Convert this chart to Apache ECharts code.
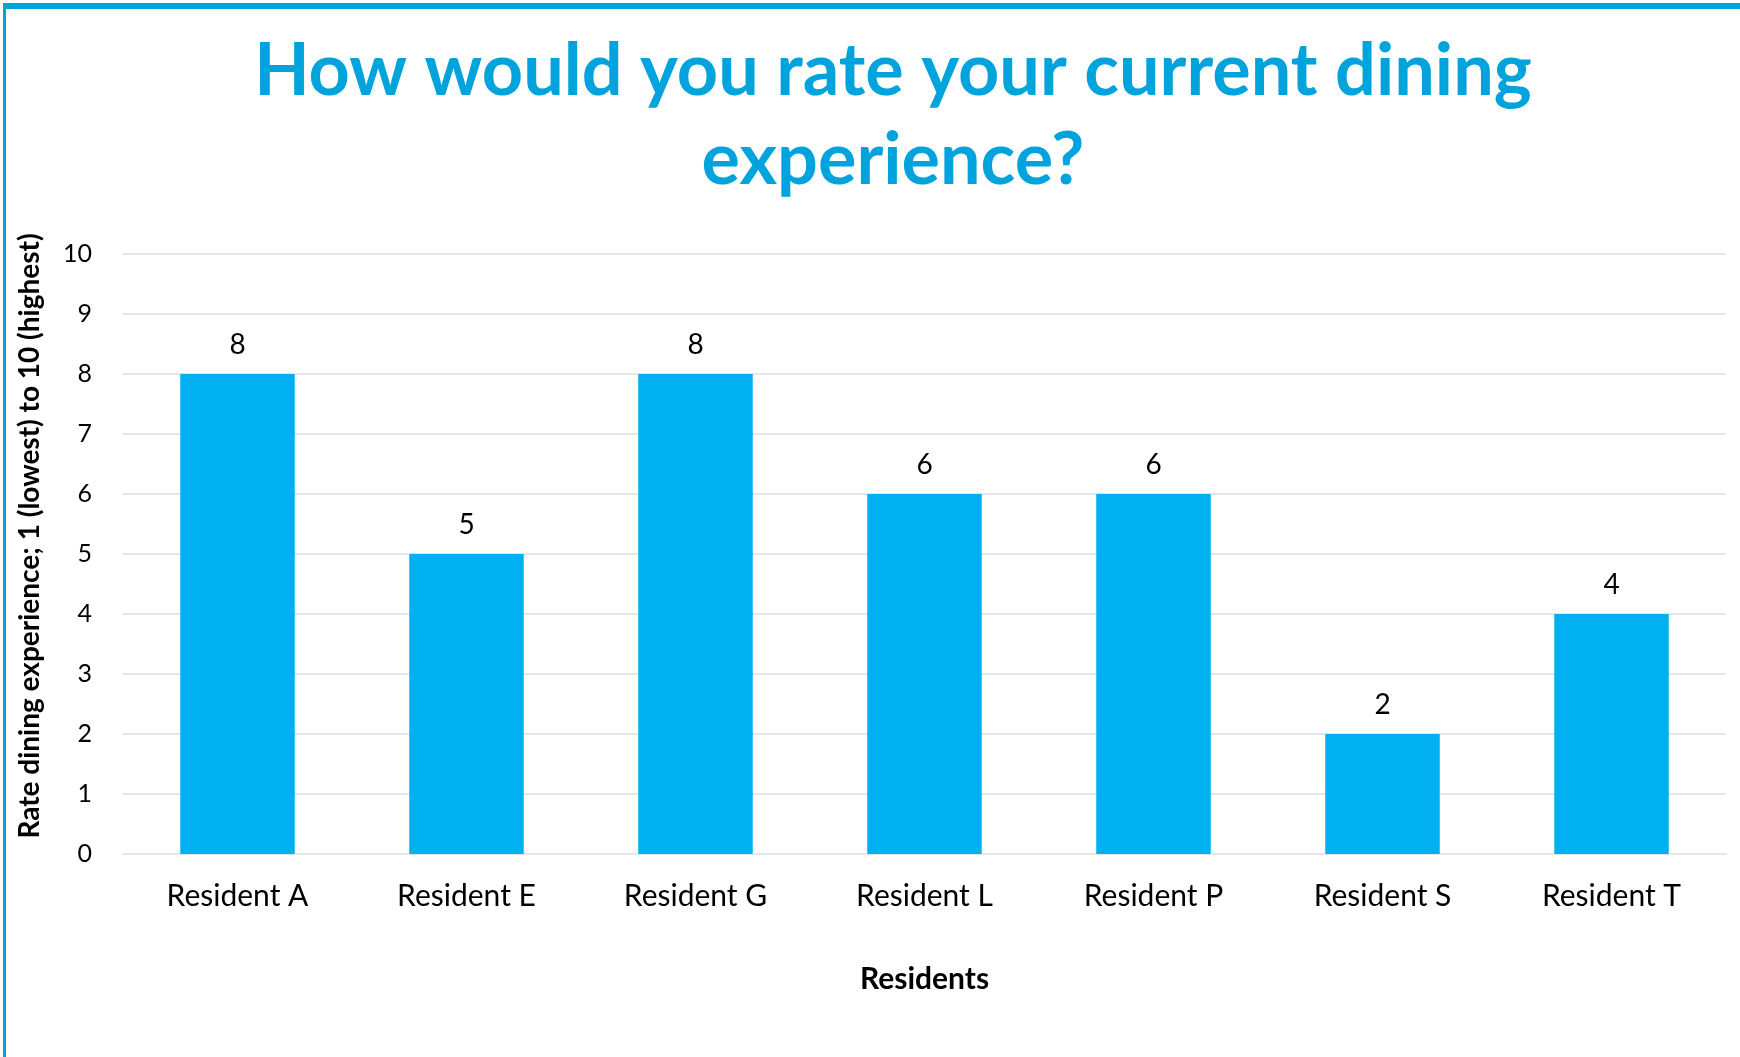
<!DOCTYPE html>
<html>
<head>
<meta charset="utf-8">
<title>Dining experience ratings</title>
<script src="https://cdn.jsdelivr.net/npm/echarts@6/dist/echarts.min.js"></script>
<style>
  html, body { margin: 0; padding: 0; background: #ffffff; }
  #chart { width: 1740px; height: 1057px; }
</style>
</head>
<body>
<div id="chart"></div>
<script>
// Residents surveyed and their dining ratings (1 lowest, 10 highest)
const residents = ['Resident A', 'Resident E', 'Resident G', 'Resident L', 'Resident P', 'Resident S', 'Resident T'];
const ratings = [8, 5, 8, 6, 6, 2, 4];
const titleLines = ['How would you rate your current dining', 'experience?'];
const yAxisTitle = 'Rate dining experience; 1 (lowest) to 10 (highest)';
const xAxisTitle = 'Residents';

const FONT = 'Lato, "Open Sans", sans-serif';
const ACCENT = '#00a3dc';

const chart = echarts.init(document.getElementById('chart'));

chart.setOption({
  backgroundColor: '#ffffff',
  animation: false,
  grid: { left: 123, right: 14, top: 254, bottom: 203, containLabel: false },
  xAxis: {
    type: 'category',
    data: residents,
    name: xAxisTitle,
    nameLocation: 'middle',
    nameGap: 110,
    nameTextStyle: { fontFamily: FONT, fontSize: 30, fontWeight: 'bold', color: '#000000' },
    axisLine: { show: true, lineStyle: { color: '#e3e6ec', width: 2 } },
    axisTick: { show: false },
    axisLabel: { fontFamily: FONT, fontSize: 30, color: '#000000', margin: 27 }
  },
  yAxis: {
    type: 'value',
    min: 0,
    max: 10,
    interval: 1,
    axisLine: { show: false },
    axisTick: { show: false },
    axisLabel: { fontFamily: FONT, fontSize: 25, color: '#000000', margin: 31 },
    splitLine: { lineStyle: { color: '#e3e6ec', width: 2 } }
  },
  series: [{
    type: 'bar',
    data: ratings,
    barWidth: '50%',
    itemStyle: { color: '#00b0f0' },
    label: {
      show: true,
      position: 'top',
      distance: 15,
      fontFamily: FONT,
      fontSize: 28,
      color: '#000000'
    }
  }],
  graphic: [
    // frame accents along the top and left edges
    { type: 'rect', shape: { x: 3, y: 3, width: 1737, height: 6 }, style: { fill: ACCENT } },
    { type: 'rect', shape: { x: 3, y: 3, width: 3, height: 1054 }, style: { fill: ACCENT } },
    {
      type: 'text',
      x: 893, y: 72,
      style: {
        text: titleLines[0],
        fill: ACCENT,
        font: 'bold 72px ' + FONT,
        textAlign: 'center',
        textVerticalAlign: 'middle'
      }
    },
    {
      type: 'text',
      x: 893, y: 161,
      style: {
        text: titleLines[1],
        fill: ACCENT,
        font: 'bold 72px ' + FONT,
        textAlign: 'center',
        textVerticalAlign: 'middle'
      }
    },
    {
      type: 'text',
      x: 30, y: 536,
      rotation: Math.PI / 2,
      style: {
        text: yAxisTitle,
        fill: '#000000',
        font: 'bold 28px ' + FONT,
        textAlign: 'center',
        textVerticalAlign: 'middle'
      }
    }
  ]
});
</script>
</body>
</html>
